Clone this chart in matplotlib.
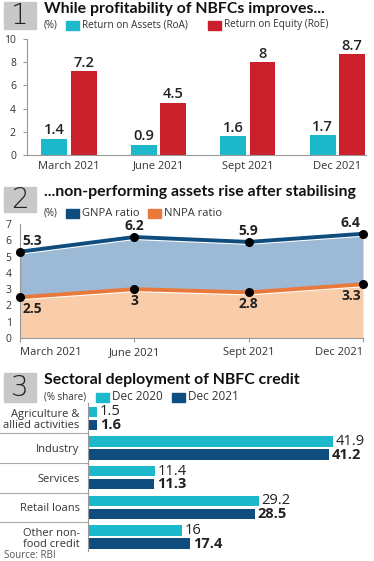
import matplotlib
matplotlib.use('Agg')
import matplotlib.pyplot as plt
from matplotlib.patches import Rectangle
import numpy as np

plt.rcParams['font.family'] = ['Open Sans', 'DejaVu Sans']

# panel 1 data
quarters = ['March 2021', 'June 2021', 'Sept 2021', 'Dec 2021']
roa = [1.4, 0.9, 1.6, 1.7]
roe = [7.2, 4.5, 8, 8.7]

# panel 2 data
gnpa = [5.3, 6.2, 5.9, 6.4]
nnpa = [2.5, 3, 2.8, 3.3]

# panel 3 data
sectors = ['Agriculture &\nallied activities', 'Industry', 'Services',
           'Retail loans', 'Other non-\nfood credit']
dec2020 = [1.5, 41.9, 11.4, 29.2, 16]
dec2021 = [1.6, 41.2, 11.3, 28.5, 17.4]

CYAN = '#1db9ca'
RED = '#c9202b'
DBLUE = '#0f4d7e'
ORANGE = '#e8793a'
GREY_TXT = '#333333'

W, H = 374, 561
fig = plt.figure(figsize=(W / 100, H / 100), dpi=100)


def px_axes(x0, y0, x1, y1):
    return fig.add_axes([x0 / W, 1 - y1 / H, (x1 - x0) / W, (y1 - y0) / H])


def header(num, y0, y1, title, ty):
    fig.patches.append(Rectangle((4 / W, 1 - y1 / H), 32 / W, (y1 - y0) / H,
                                 transform=fig.transFigure, color='#c8c8c8'))
    fig.text(20 / W, 1 - (y0 + y1) / 2 / H, num, fontsize=20, color='#222222',
             ha='center', va='center', family='DejaVu Sans', fontweight='light')
    fig.text(44 / W, 1 - ty / H, title, fontsize=11.4, fontweight='bold',
             va='center', color='#111111', family=['Lato', 'DejaVu Sans'])


def legend(y, items, fs):
    for x, kind, txt in items:
        if kind is None:
            fig.text(x / W, 1 - y / H, txt, fontsize=7, va='center', color=GREY_TXT)
        else:
            fig.patches.append(Rectangle((x / W, 1 - (y + 4.5) / H), 13 / W, 9 / H,
                                         transform=fig.transFigure, color=kind))
            fig.text((x + 16) / W, 1 - y / H, txt, fontsize=fs, va='center',
                     color=GREY_TXT)


# ---------- panel 1 ----------
header('1', 2, 29, 'While profitability of NBFCs improves...', 9)
legend(25, [(44, None, '(%)'), (66, CYAN, 'Return on Assets (RoA)'),
            (208, RED, 'Return on Equity (RoE)')], 7.2)

ax1 = px_axes(27, 39, 366, 155)
x = np.arange(len(quarters))
w = 0.29
ax1.bar(x - 0.163, roa, w, color=CYAN)
ax1.bar(x + 0.163, roe, w, color=RED)
for i in range(len(quarters)):
    ax1.text(x[i] - 0.163, roa[i] + 0.12, f'{roa[i]:g}', ha='center', va='bottom',
             fontsize=10.5, fontweight='semibold', color='#222222')
    ax1.text(x[i] + 0.163, roe[i] + 0.12, f'{roe[i]:g}', ha='center', va='bottom',
             fontsize=10.5, fontweight='semibold', color='#222222')
ax1.set_xlim(-0.47, 3.32)
ax1.set_ylim(0, 10)
ax1.set_yticks([0, 2, 4, 6, 8, 10])
ax1.set_xticks(x)
ax1.set_xticklabels(quarters)
ax1.tick_params(axis='x', length=0, labelsize=8, pad=4, colors=GREY_TXT)
ax1.tick_params(axis='y', length=3, labelsize=7.5, pad=5, colors=GREY_TXT, color='#999999')
for s in ['top', 'right']:
    ax1.spines[s].set_visible(False)
ax1.spines['left'].set_color('#999999')
ax1.spines['bottom'].set_color('#999999')

# ---------- panel 2 ----------
header('2', 187, 212, '...non-performing assets rise after stabilising', 192)
legend(213, [(44, None, '(%)'), (66, DBLUE, 'GNPA ratio'),
             (148, ORANGE, 'NNPA ratio')], 8)

ax2 = px_axes(20, 224, 363, 338)
ax2.fill_between(x, nnpa, gnpa, color='#9cb9d6', lw=0)
ax2.fill_between(x, 0, nnpa, color='#f9cda9', lw=0)
ax2.plot(x, np.array(gnpa) - 0.12, color='white', lw=1.5)
ax2.plot(x, gnpa, color=DBLUE, lw=2.8)
ax2.plot(x, np.array(nnpa) - 0.12, color='white', lw=1.5)
ax2.plot(x, nnpa, color=ORANGE, lw=2.8)
ax2.plot(x, gnpa, 'o', color='black', ms=5.5, clip_on=False, zorder=5)
ax2.plot(x, nnpa, 'o', color='black', ms=5.5, clip_on=False, zorder=5)
has = ['left', 'center', 'center', 'right']
for i in range(len(quarters)):
    ha = has[i]
    xo = 0.02 if i == 0 else (-0.02 if i == 3 else 0)
    ax2.text(x[i] + xo, gnpa[i] + 0.25, f'{gnpa[i]:g}', ha=ha, va='bottom',
             fontsize=10, fontweight='bold', color='#222222', clip_on=False)
    ax2.text(x[i] + xo, nnpa[i] - 0.3, f'{nnpa[i]:g}', ha=ha, va='top',
             fontsize=10, fontweight='bold', color='#222222', clip_on=False)
ax2.set_xlim(0, 3)
ax2.set_ylim(0, 7)
ax2.set_yticks(range(8))
ax2.set_xticks(x)
ax2.set_xticklabels(quarters)
for lbl in ax2.get_xticklabels():
    lbl.set_va('baseline')
ax2.get_xticklabels()[0].set_ha('left')
ax2.get_xticklabels()[-1].set_ha('right')
ax2.tick_params(axis='x', length=3, labelsize=8, pad=9, colors=GREY_TXT, color='#999999')
ax2.tick_params(axis='y', length=0, labelsize=7.5, pad=6, colors=GREY_TXT)
for s in ['top', 'right']:
    ax2.spines[s].set_visible(False)
ax2.spines['left'].set_color('#999999')
ax2.spines['bottom'].set_color('#999999')

# ---------- panel 3 ----------
header('3', 373, 402, 'Sectoral deployment of NBFC credit', 380)
legend(397, [(44, None, '(% share)'), (96, CYAN, 'Dec 2020'),
             (172, DBLUE, 'Dec 2021')], 8.5)

ax3 = px_axes(88, 403, 374, 551)
y = np.arange(len(sectors))
h = 0.35
ax3.barh(y - 0.22, dec2020, h, color=CYAN)
ax3.barh(y + 0.22, dec2021, h, color=DBLUE)
for i in range(len(sectors)):
    ax3.text(dec2020[i] + 0.5, y[i] - 0.22, f'{dec2020[i]:g}', va='center',
             fontsize=10.5, color='#222222')
    ax3.text(dec2021[i] + 0.5, y[i] + 0.22, f'{dec2021[i]:g}', va='center',
             fontsize=10.5, fontweight='bold', color='#222222')
ax3.set_xlim(0, 48.9)
ax3.set_ylim(4.47, -0.52)
ax3.set_xticks([])
ax3.set_yticks(y)
ax3.set_yticklabels(sectors, fontsize=8, color=GREY_TXT, linespacing=1.0)
ax3.tick_params(axis='y', length=0, pad=6)
for s in ['top', 'right', 'bottom']:
    ax3.spines[s].set_visible(False)
ax3.spines['left'].set_color('#999999')
for b in y[:-1] + 0.5:
    ax3.plot([-88 / 5.85, 0], [b, b], color='#aaaaaa', lw=0.8, clip_on=False)

fig.text(4 / W, 1 - 556 / H, 'Source: RBI', fontsize=7, va='center', color='#555555')

fig.savefig('out.png', dpi=100)
